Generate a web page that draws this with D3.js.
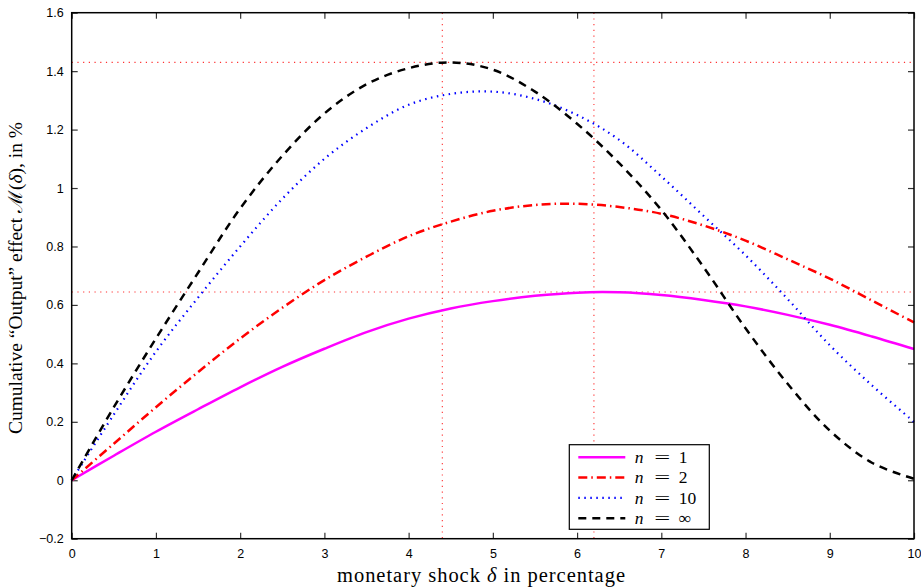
<!DOCTYPE html>
<html>
<head>
<meta charset="utf-8">
<script src="https://cdn.jsdelivr.net/npm/d3@7"></script>
<style>
  body { margin: 0; background: #fff; }
  .tick text { font-family: "Liberation Sans", Arial, sans-serif; font-size: 12.5px; }
</style>
</head>
<body>
<svg width="921" height="588"></svg>
<script>
// shock size (delta, in %)
var delta = [0, 0.5, 1, 1.5, 2, 2.5, 3, 3.5, 4, 4.5, 5, 5.5, 6, 6.5, 7, 7.5, 8, 8.5, 9, 9.5, 10];

var n1 = [0, 0.084, 0.166, 0.243, 0.318, 0.388, 0.45, 0.507, 0.553, 0.588, 0.613, 0.631, 0.642, 0.643, 0.634, 0.617, 0.595, 0.566, 0.532, 0.492, 0.449];
var n2 = [0, 0.125, 0.25, 0.37, 0.485, 0.59, 0.685, 0.765, 0.835, 0.885, 0.922, 0.942, 0.946, 0.935, 0.912, 0.872, 0.82, 0.756, 0.69, 0.615, 0.54];
var n10 = [0, 0.225, 0.44, 0.625, 0.80, 0.963, 1.10, 1.205, 1.285, 1.322, 1.33, 1.305, 1.25, 1.165, 1.04, 0.905, 0.77, 0.62, 0.462, 0.325, 0.20];
var nInf = [0, 0.25, 0.485, 0.71, 0.93, 1.11, 1.255, 1.355, 1.41, 1.43, 1.405, 1.33, 1.22, 1.085, 0.925, 0.73, 0.52, 0.33, 0.17, 0.06, 0.005];

var xTicks = [0, 1, 2, 3, 4, 5, 6, 7, 8, 9, 10];
var yTicks = [-0.2, 0, 0.2, 0.4, 0.6, 0.8, 1, 1.2, 1.4, 1.6];

// dotted guide lines
var vGuides = [4.4, 6.2];
var hGuides = [1.43, 0.644];

var series = [
    { label: "1", values: n1, color: "#ff00ff", dash: null, width: 2.5 },
    { label: "2", values: n2, color: "#ff0000", dash: "9,4,1.5,4", width: 2.5 },
    { label: "10", values: n10, color: "#0000ff", dash: "1.5,4.5", width: 2.2 },
    { label: "\u221e", values: nInf, color: "#000000", dash: "8,6", width: 2.5 }
];

var svg = d3.select("svg"),
    margin = { left: 71.7, right: 7, top: 12.7, bottom: 49.3 },
    width = +svg.attr("width") - margin.left - margin.right,
    height = +svg.attr("height") - margin.top - margin.bottom,
    g = svg.append("g").attr("transform", "translate(" + margin.left + "," + margin.top + ")");

var x = d3.scaleLinear().domain([0, 10]).range([0, width]);
var y = d3.scaleLinear().domain([-0.2, 1.6]).range([height, 0]);

// guide lines
g.selectAll(".vguide")
  .data(vGuides)
  .enter().append("line")
    .attr("x1", function (d) { return x(d); })
    .attr("x2", function (d) { return x(d); })
    .attr("y1", 0).attr("y2", height)
    .attr("stroke", "#ff3030").attr("stroke-width", 1.1)
    .attr("stroke-dasharray", "1.2,4.5");

g.selectAll(".hguide")
  .data(hGuides)
  .enter().append("line")
    .attr("y1", function (d) { return y(d); })
    .attr("y2", function (d) { return y(d); })
    .attr("x1", 0).attr("x2", width)
    .attr("stroke", "#ff3030").attr("stroke-width", 1.1)
    .attr("stroke-dasharray", "1.2,4.5");

// axes with inward ticks on all four sides
var xAxis = g.append("g").attr("transform", "translate(0," + height + ")")
    .call(d3.axisBottom(x).tickValues(xTicks).tickSizeInner(-6).tickSizeOuter(0).tickPadding(10).tickFormat(d3.format("d")));
var yAxis = g.append("g")
    .call(d3.axisLeft(y).tickValues(yTicks).tickSizeInner(-6).tickSizeOuter(0).tickPadding(8)
        .tickFormat(function (d) { return d === 0 ? "0" : (d === 1 ? "1" : d3.format(".1f")(d).replace("-", "\u2212")); }));
var xTop = g.append("g").call(d3.axisTop(x).tickValues(xTicks).tickSizeInner(-6).tickSizeOuter(0).tickFormat(""));
var yRight = g.append("g").attr("transform", "translate(" + width + ",0)")
    .call(d3.axisRight(y).tickValues(yTicks).tickSizeInner(-6).tickSizeOuter(0).tickFormat(""));

[xAxis, yAxis, xTop, yRight].forEach(function (a) {
    a.select(".domain").remove();
    a.selectAll(".tick line").attr("stroke", "#333").attr("stroke-width", 1.2);
});
xAxis.selectAll(".tick text").attr("fill", "#000");
yAxis.selectAll(".tick text").attr("fill", "#000");

// curves
var line = d3.line()
    .x(function (d, i) { return x(delta[i]); })
    .y(function (d) { return y(d); })
    .curve(d3.curveCatmullRom.alpha(0.5));

g.selectAll(".curve")
  .data(series)
  .enter().append("path")
    .attr("class", "curve")
    .attr("d", function (d) { return line(d.values); })
    .attr("fill", "none")
    .attr("stroke", function (d) { return d.color; })
    .attr("stroke-width", function (d) { return d.width; })
    .attr("stroke-dasharray", function (d) { return d.dash; });

// frame
g.append("rect")
    .attr("width", width).attr("height", height)
    .attr("fill", "none").attr("stroke", "#000").attr("stroke-width", 1.5);

// legend
var lg = svg.append("g").attr("transform", "translate(569.3,444.7)");
lg.append("rect").attr("width", 140).attr("height", 84.6)
    .attr("fill", "#fff").attr("stroke", "#000").attr("stroke-width", 1.2);

var rows = lg.selectAll(".row")
  .data(series)
  .enter().append("g")
    .attr("transform", function (d, i) { return "translate(0," + (12.6 + i * 20.3) + ")"; });

rows.append("line")
    .attr("x1", 9).attr("x2", 56)
    .attr("stroke", function (d) { return d.color; })
    .attr("stroke-width", function (d) { return d.width; })
    .attr("stroke-dasharray", function (d) { return d.dash; });

var legendFont = "'Liberation Serif', 'DejaVu Serif', serif";
rows.append("text")
    .attr("x", 65.5).attr("dy", "0.32em")
    .style("font-family", legendFont).style("font-size", "17.5px").style("font-style", "italic")
    .text("n");
rows.append("text")
    .attr("x", 85).attr("dy", "0.32em")
    .attr("textLength", 16).attr("lengthAdjust", "spacingAndGlyphs")
    .style("font-family", legendFont).style("font-size", "17.5px")
    .text("=");
rows.append("text")
    .attr("x", 109.5).attr("dy", "0.32em")
    .style("font-family", legendFont).style("font-size", "17.5px")
    .text(function (d) { return d.label; });

// axis titles
svg.append("text")
    .attr("x", 481).attr("y", 582)
    .attr("text-anchor", "middle")
    .attr("textLength", 288).attr("lengthAdjust", "spacing")
    .style("font-family", "'Liberation Serif', 'DejaVu Serif', serif")
    .style("font-size", "20.5px")
    .html("monetary shock <tspan font-style='italic'>\u03b4</tspan> in percentage");

svg.append("text")
    .attr("transform", "translate(22,278)rotate(-90)")
    .attr("text-anchor", "middle")
    .style("font-family", "'Liberation Serif', 'DejaVu Serif', serif")
    .style("font-size", "19.5px")
    .html("Cumulative \u201cOutput\u201d effect \u2133(<tspan font-style='italic'>\u03b4</tspan>), in %");
</script>
</body>
</html>
